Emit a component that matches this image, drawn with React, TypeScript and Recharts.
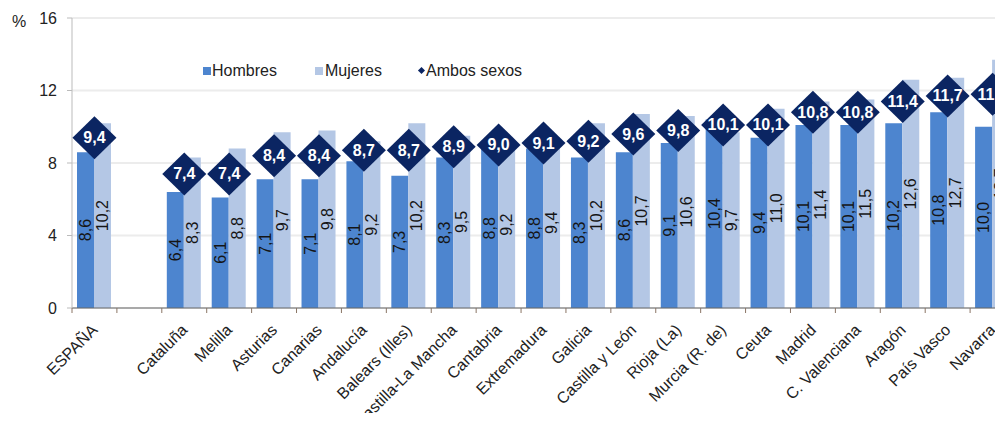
import React from 'react';
import { ComposedChart, Bar, Line, XAxis, YAxis, CartesianGrid, Legend, LabelList } from 'recharts';

const categories = [
  'ESPAÑA', '', 'Cataluña', 'Melilla', 'Asturias', 'Canarias', 'Andalucía', 'Balears (Illes)',
  'Castilla-La Mancha', 'Cantabria', 'Extremadura', 'Galicia', 'Castilla y León', 'Rioja (La)',
  'Murcia (R. de)', 'Ceuta', 'Madrid', 'C. Valenciana', 'Aragón', 'País Vasco', 'Navarra',
];
const hombres = [8.6, null, 6.4, 6.1, 7.1, 7.1, 8.1, 7.3, 8.3, 8.8, 8.8, 8.3, 8.6, 9.1, 10.4, 9.4, 10.1, 10.1, 10.2, 10.8, 10.0];
const mujeres = [10.2, null, 8.3, 8.8, 9.7, 9.8, 9.2, 10.2, 9.5, 9.2, 9.4, 10.2, 10.7, 10.6, 9.7, 11.0, 11.4, 11.5, 12.6, 12.7, 13.7];
const ambos = [9.4, null, 7.4, 7.4, 8.4, 8.4, 8.7, 8.7, 8.9, 9.0, 9.1, 9.2, 9.6, 9.8, 10.1, 10.1, 10.8, 10.8, 11.4, 11.7, 11.8];
const yTicks = [0, 4, 8, 12, 16];

const data = categories.map((c, i) => ({ name: c, h: hombres[i], m: mujeres[i], a: ambos[i] }));

const FONT = '"Liberation Sans", Arial, Helvetica, sans-serif';
const C_H = '#4d85cf';
const C_M = '#b4c7e5';
const C_A = '#0b2562';

const CHART_W = 1020;
const CHART_H = 413;
const MARGIN = { top: 10, right: 13, bottom: 0, left: 14 };
const Y_W = 50;
const PLOT_W = CHART_W - MARGIN.left - MARGIN.right - Y_W;

const fmt = (v: any) => (v == null ? '' : Number(v).toFixed(1).replace('.', ','));

const XTick = (props: any) => {
  const { x, y, payload } = props;
  const band = PLOT_W / categories.length;
  const label = payload && payload.value ? String(payload.value) : '';
  const tx = x + 4;
  const ty = y + 23;
  return (
    <g>
      <line x1={x - band / 2} x2={x - band / 2} y1={y} y2={y + 5} stroke="#8a7565" strokeWidth={1} />
      {label.trim() !== '' && (
        <text x={tx} y={ty} transform={`rotate(-45 ${tx} ${ty})`} textAnchor="end" fontSize={16} fontFamily={FONT} fill="#222">
          {label}
        </text>
      )}
    </g>
  );
};

const BarLabel = (props: any) => {
  const { x, y, width, height, value } = props;
  if (value == null) return null;
  const cx = Number(x) + Number(width) / 2;
  const cy = Number(y) + Number(height) / 2;
  return (
    <text
      x={cx}
      y={cy}
      transform={`rotate(-90 ${cx} ${cy})`}
      textAnchor="middle"
      dominantBaseline="central"
      fontSize={16}
      fontFamily={FONT}
      fill="#151515"
    >
      {fmt(value)}
    </text>
  );
};

const Diamond = (props: any) => {
  const { cx, cy, value, index } = props;
  if (cx == null || cy == null || value == null) return <g key={`d-${index}`} />;
  const hw = 22;
  const hh = 21.5;
  return (
    <g key={`d-${index}`}>
      <polygon points={`${cx},${cy - hh} ${cx + hw},${cy} ${cx},${cy + hh} ${cx - hw},${cy}`} fill={C_A} />
      <text x={cx} y={cy} textAnchor="middle" dominantBaseline="central" fontSize={16} fontWeight="bold" fontFamily={FONT} fill="#ffffff">
        {fmt(value)}
      </text>
    </g>
  );
};

const LegendContent = () => (
  <div style={{ position: 'relative', height: 20, width: 600, fontFamily: FONT, fontSize: 16, color: '#222', lineHeight: '20px' }}>
    <span style={{ position: 'absolute', left: 195, top: 6, width: 8, height: 8, background: C_H }} />
    <span style={{ position: 'absolute', left: 204, top: 0, whiteSpace: 'nowrap' }}>Hombres</span>
    <span style={{ position: 'absolute', left: 307, top: 6, width: 8, height: 8, background: C_M }} />
    <span style={{ position: 'absolute', left: 317, top: 0, whiteSpace: 'nowrap' }}>Mujeres</span>
    <span style={{ position: 'absolute', left: 411, top: 7, width: 5, height: 5, background: C_A, transform: 'rotate(45deg)' }} />
    <span style={{ position: 'absolute', left: 418, top: 0, whiteSpace: 'nowrap' }}>Ambos sexos</span>
  </div>
);

export default function App() {
  return (
    <div style={{ position: 'relative', width: 995, height: CHART_H, overflow: 'hidden', marginBottom: -8, background: '#fff' }}>
      <div style={{ position: 'absolute', left: 4, top: 6, fontFamily: FONT, fontSize: 16, lineHeight: '16px', color: '#222' }}>%</div>
      <ComposedChart width={CHART_W} height={CHART_H} data={data} margin={MARGIN} barGap={0} barCategoryGap={5}>
        <CartesianGrid vertical={false} stroke="#ececec" strokeWidth={2} />
        <XAxis
          dataKey="name"
          interval={0}
          height={113}
          tickSize={0}
          tickMargin={0}
          tickLine={false}
          axisLine={{ stroke: '#666', strokeWidth: 1 }}
          tick={(p: any) => <XTick {...p} />}
        />
        <YAxis
          width={Y_W}
          domain={[0, 16]}
          ticks={yTicks}
          interval={0}
          tickSize={5}
          tickMargin={10}
          axisLine={{ stroke: '#bbb' }}
          tickLine={{ stroke: '#bbb' }}
          tick={{ fontSize: 16, fontFamily: FONT, fill: '#222' }}
        />
        <Legend
          layout="horizontal"
          verticalAlign="middle"
          align="center"
          wrapperStyle={{ top: 53, left: 0, width: 600 }}
          content={() => <LegendContent />}
        />
        <Bar dataKey="h" name="Hombres" fill={C_H} isAnimationActive={false}>
          <LabelList dataKey="h" content={(p: any) => <BarLabel {...p} />} />
        </Bar>
        <Bar dataKey="m" name="Mujeres" fill={C_M} isAnimationActive={false}>
          <LabelList dataKey="m" content={(p: any) => <BarLabel {...p} />} />
        </Bar>
        <Line
          dataKey="a"
          name="Ambos sexos"
          stroke="none"
          dot={(p: any) => <Diamond {...p} />}
          activeDot={false}
          isAnimationActive={false}
          legendType="diamond"
        />
      </ComposedChart>
    </div>
  );
}
